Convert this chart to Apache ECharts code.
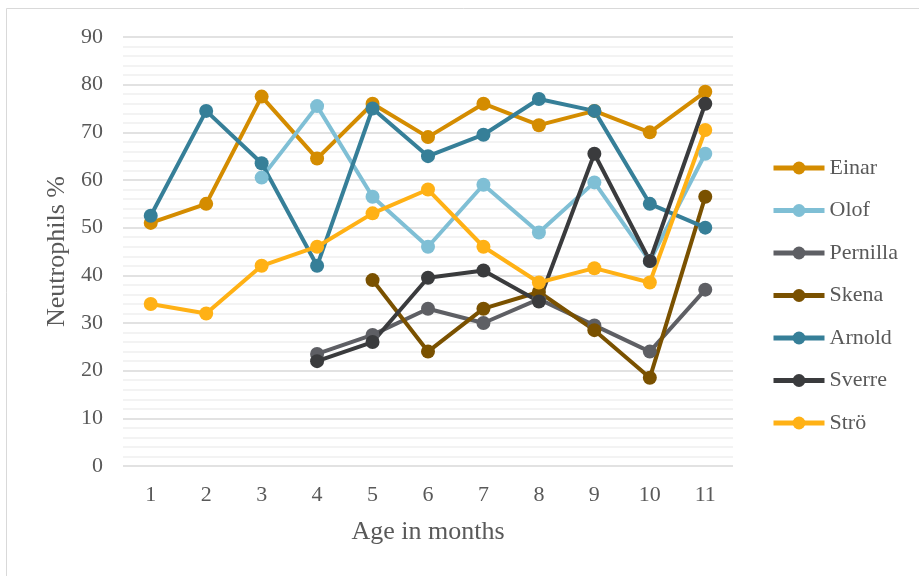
<!DOCTYPE html>
<html>
<head>
<meta charset="utf-8">
<script src="https://cdn.jsdelivr.net/npm/echarts@6/dist/echarts.min.js"></script>
<style>
  html, body { margin: 0; padding: 0; background: #fff; }
  #chart { width: 919px; height: 576px; }
</style>
</head>
<body>
<div id="chart"></div>
<script>
// Age in months (x axis categories)
const months = ['1', '2', '3', '4', '5', '6', '7', '8', '9', '10', '11'];

// Neutrophil percentage per animal; null where no sample was taken
const einar    = [51, 55, 77.5, 64.5, 76, 69, 76, 71.5, 74.5, 70, 78.5];
const olof     = [null, null, 60.5, 75.5, 56.5, 46, 59, 49, 59.5, 43, 65.5];
const pernilla = [null, null, null, 23.5, 27.5, 33, 30, 35, 29.5, 24, 37];
const skena    = [null, null, null, null, 39, 24, 33, 36.5, 28.5, 18.5, 56.5];
const arnold   = [52.5, 74.5, 63.5, 42, 75, 65, 69.5, 77, 74.5, 55, 50];
const sverre   = [null, null, null, 22, 26, 39.5, 41, 34.5, 65.5, 43, 76];
const stro     = [34, 32, 42, 46, 53, 58, 46, 38.5, 41.5, 38.5, 70.5];

const seriesDefs = [
  { name: 'Einar',    data: einar,    color: '#D48C00' },
  { name: 'Olof',     data: olof,     color: '#7FBFD5' },
  { name: 'Pernilla', data: pernilla, color: '#5E5F64' },
  { name: 'Skena',    data: skena,    color: '#7A5100' },
  { name: 'Arnold',   data: arnold,   color: '#367F98' },
  { name: 'Sverre',   data: sverre,   color: '#3A3B3D' },
  { name: 'Strö',     data: stro,     color: '#FFB115' }
];

const font = "'Liberation Serif', 'Times New Roman', serif";
const textColor = '#595959';

const chart = echarts.init(document.getElementById('chart'), null, { renderer: 'canvas' });

chart.setOption({
  backgroundColor: '#ffffff',
  animation: false,
  textStyle: { fontFamily: font },
  graphic: [{
    type: 'rect',
    shape: { x: 6.5, y: 8.5, width: 930, height: 600 },
    style: { fill: 'none', stroke: '#d9d9d9', lineWidth: 1 },
    silent: true,
    z: -10
  }],
  grid: { left: 123, right: 186, top: 37, bottom: 110, containLabel: false },
  legend: {
    orient: 'vertical',
    left: 771,
    top: 156,
    padding: 0,
    itemWidth: 51,
    itemHeight: 16,
    itemGap: 18.5,
    lineStyle: { width: 5 },
    textStyle: { fontFamily: font, fontSize: 22, color: textColor, lineHeight: 24 },
    data: seriesDefs.map(s => s.name)
  },
  xAxis: {
    type: 'category',
    data: months,
    boundaryGap: true,
    axisLine: { show: false },
    axisTick: { show: false },
    axisLabel: { fontFamily: font, fontSize: 22, color: textColor, margin: 18 },
    name: 'Age in months',
    nameLocation: 'middle',
    nameGap: 53,
    nameTextStyle: { fontFamily: font, fontSize: 26, color: textColor }
  },
  yAxis: {
    type: 'value',
    min: 0,
    max: 90,
    interval: 10,
    axisLine: { show: false },
    axisTick: { show: false },
    axisLabel: { fontFamily: font, fontSize: 22, color: textColor, margin: 20 },
    splitLine: { show: true, lineStyle: { color: '#d9d9d9', width: 1.5 } },
    minorTick: { show: false, splitNumber: 5 },
    minorSplitLine: { show: true, lineStyle: { color: '#efefef', width: 1.5 } },
    name: 'Neutrophils %',
    nameLocation: 'middle',
    nameGap: 51,
    nameTextStyle: { fontFamily: font, fontSize: 26, color: textColor }
  },
  series: seriesDefs.map(s => ({
    name: s.name,
    type: 'line',
    data: s.data,
    connectNulls: false,
    symbol: 'circle',
    symbolSize: 14,
    showAllSymbol: true,
    itemStyle: { color: s.color },
    lineStyle: { color: s.color, width: 4 },
    emphasis: { disabled: true }
  }))
});
</script>
</body>
</html>
